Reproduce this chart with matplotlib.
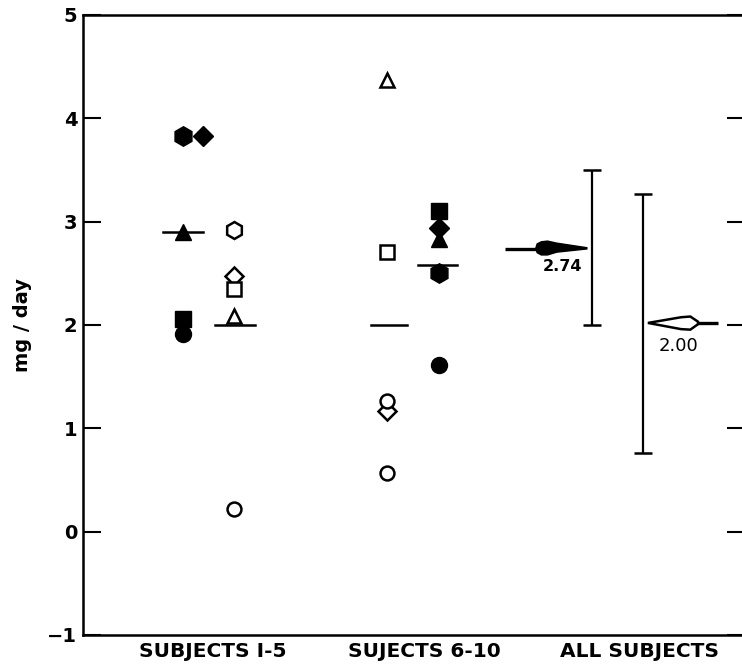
import matplotlib
matplotlib.use('Agg')
import matplotlib.pyplot as plt
from matplotlib.patches import Polygon

# ---------------- data ----------------
group_labels = ['SUBJECTS I-5', 'SUJECTS 6-10', 'ALL SUBJECTS']
y_ticks = [-1, 0, 1, 2, 3, 4, 5]
y_tick_labels = ['\u22121', '0', '1', '2', '3', '4', '5']

# subjects 1-5
g1_filled_markers = ['h', 'D', '^', 's', 'o']
g1_filled_values = [3.83, 3.83, 2.90, 2.06, 1.91]
g1_open_markers = ['h', 'D', 's', '^', 'o']
g1_open_values = [2.92, 2.47, 2.35, 2.09, 0.22]
g1_filled_mean = 2.90
g1_open_mean = 2.00

# subjects 6-10
g2_open_markers = ['^', 's', 'D', 'o', 'o']
g2_open_values = [4.37, 2.71, 1.17, 1.26, 0.57]
g2_filled_markers = ['s', 'D', '^', 'h', 'o']
g2_filled_values = [3.10, 2.94, 2.83, 2.50, 1.61]
g2_open_mean = 2.00
g2_filled_mean = 2.58

# all subjects
all_filled_mean = 2.74
all_filled_low, all_filled_high = 2.00, 3.50
all_open_mean = 2.00
all_open_low, all_open_high = 0.76, 3.27

# ---------------- layout ----------------
W, H = 742, 664
fig = plt.figure(figsize=(W / 100, H / 100), dpi=100)
ax = fig.add_axes([83 / W, 1 - 635 / H, (745 - 83) / W, (635 - 15) / H])

ax.set_xlim(0.411, 3.609)
ax.set_ylim(-1, 5)

# positions (x) of the columns
x_g1_filled = [0.894, 0.990, 0.894, 0.894, 0.894]
x_g1_open = 1.140
x_g2_open = 1.879
x_g2_filled = 2.130
x_err_filled = 2.870
x_err_open = 3.116
tick_pos = [1.04, 2.06, 3.10]

ms = 10
mew = 1.8

def size_for(m, base):
    if m == 'h':
        return base * 1.22
    if m == 'D':
        return base * 0.9
    return base

def draw_open(xs, vals, marks):
    for x, v, m in zip(xs, vals, marks):
        ax.plot(x, v, marker=m, ms=size_for(m, ms), mfc='white', mec='black',
                mew=mew, ls='none', zorder=3)

def draw_filled(xs, vals, marks):
    for x, v, m in zip(xs, vals, marks):
        ax.plot(x, v, marker=m, ms=size_for(m, ms + 1.5), color='black',
                ls='none', zorder=3)

def mean_line(xc, v, half=0.095):
    ax.plot([xc - half, xc + half], [v, v], color='black', lw=1.8, zorder=2)

# group 1
draw_filled(x_g1_filled, g1_filled_values, g1_filled_markers)
mean_line(0.894, g1_filled_mean)
draw_open([x_g1_open] * len(g1_open_values), g1_open_values, g1_open_markers)
mean_line(x_g1_open + 0.005, g1_open_mean)

# group 2
draw_open([x_g2_open] * len(g2_open_values), g2_open_values, g2_open_markers)
mean_line(x_g2_open + 0.01, g2_open_mean, half=0.085)
draw_filled([x_g2_filled] * len(g2_filled_values), g2_filled_values, g2_filled_markers)
mean_line(x_g2_filled - 0.008, g2_filled_mean)

# error bars (ranges)
for x, lo, hi, m in [(x_err_filled, all_filled_low, all_filled_high, all_filled_mean),
                     (x_err_open, all_open_low, all_open_high, all_open_mean)]:
    ax.errorbar([x], [m], yerr=[[m - lo], [hi - m]], fmt='none', ecolor='black',
                elinewidth=1.6, capsize=6.5, capthick=1.8, zorder=2)

# filled pointer (2.74) pointing right
v = all_filled_mean
ax.plot([2.449, 2.62], [v, v], color='black', lw=2.4, solid_capstyle='butt', zorder=3)
filled_ptr = Polygon([(2.598, v), (2.605, v + 0.045), (2.625, v + 0.065), (2.655, v + 0.072),
                      (2.70, v + 0.052), (2.845, v + 0.008), (2.845, v - 0.004),
                      (2.70, v - 0.035), (2.655, v - 0.062), (2.625, v - 0.062),
                      (2.605, v - 0.04)], closed=True, fc='black', ec='black', lw=1, zorder=3)
ax.add_patch(filled_ptr)
ax.text(2.725, 2.563, f'{all_filled_mean:.2f}', ha='center', va='center',
        fontsize=11.5, fontweight='bold')

# open pointer (2.00) pointing left
v = all_open_mean + 0.02
open_ptr = Polygon([(3.140, v), (3.300, v + 0.055), (3.345, v + 0.062), (3.382, v + 0.012),
                    (3.382, v - 0.012), (3.345, v - 0.065), (3.300, v - 0.06)],
                   closed=True, fc='white', ec='black', lw=1.8, zorder=3)
ax.add_patch(open_ptr)
ax.plot([3.378, 3.478], [v, v], color='black', lw=2.4, solid_capstyle='butt', zorder=3)
ax.text(3.287, 1.796, f'{all_open_mean:.2f}', ha='center', va='center', fontsize=13)

# axes styling
for s in ['left', 'bottom', 'top']:
    ax.spines[s].set_linewidth(1.8)
ax.spines['right'].set_visible(False)

ax.set_yticks(y_ticks)
ax.set_yticklabels(y_tick_labels, fontsize=14, fontweight='bold')
ax.tick_params(axis='y', direction='in', length=13, width=1.5, pad=4,
               left=True, right=True)
ax.set_xticks(tick_pos)
ax.set_xticklabels(group_labels, fontsize=14.5, fontweight='bold')
ax.tick_params(axis='x', length=0, pad=5)
ax.set_ylabel('mg / day', fontsize=14, fontweight='bold', labelpad=11)

fig.savefig('out.png', dpi=100)
